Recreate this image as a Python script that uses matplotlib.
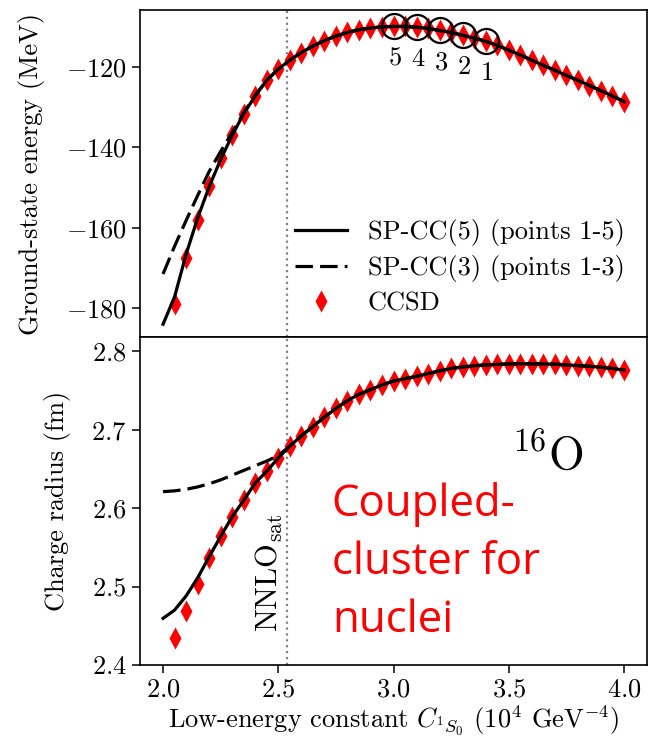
import matplotlib
matplotlib.use("Agg")
import matplotlib.pyplot as plt
import numpy as np

plt.rcParams['font.family'] = 'serif'
plt.rcParams['font.serif'] = ['cmr10']
plt.rcParams['mathtext.fontset'] = 'cm'
plt.rcParams['axes.formatter.use_mathtext'] = True
plt.rcParams['font.size'] = 19
plt.rcParams['axes.unicode_minus'] = True

# CCSD points (C_1S0 in 10^4 GeV^-4)
c_ccsd = [2.05, 2.10, 2.15, 2.20, 2.25, 2.30, 2.35, 2.40, 2.45, 2.50,
          2.55, 2.60, 2.65, 2.70, 2.75, 2.80, 2.85, 2.90, 2.95, 3.00,
          3.05, 3.10, 3.15, 3.20, 3.25, 3.30, 3.35, 3.40, 3.45, 3.50,
          3.55, 3.60, 3.65, 3.70, 3.75, 3.80, 3.85, 3.90, 3.95, 4.00]
e_ccsd = [-178.9, -167.5, -158.0, -149.6, -142.6, -136.8, -131.6, -127.2, -123.3, -120.5,
          -118.3, -116.4, -114.8, -113.4, -112.3, -111.4, -110.7, -110.3, -110.0, -109.9,
          -109.9, -110.1, -110.4, -110.9, -111.4, -112.1, -112.8, -113.6, -114.6, -115.8,
          -117.0, -118.3, -119.6, -120.8, -122.1, -123.3, -124.6, -125.9, -127.2, -128.6]
r_ccsd = [2.435, 2.469, 2.503, 2.537, 2.564, 2.589, 2.610, 2.632, 2.647, 2.664,
          2.679, 2.692, 2.704, 2.716, 2.727, 2.737, 2.745, 2.751, 2.757, 2.762,
          2.765, 2.768, 2.7715, 2.775, 2.778, 2.780, 2.7815, 2.7825, 2.7833, 2.7838,
          2.784, 2.784, 2.7838, 2.7834, 2.7826, 2.7817, 2.7808, 2.7796, 2.778, 2.776]

# emulator curves
c_curve = [2.00] + c_ccsd
e_sp5 = [-184.0, -177.2, -166.6, -157.6, -149.8, -143.0, -137.0] + e_ccsd[6:]
e_sp3 = [-171.5, -164.6, -158.2, -152.0, -146.0, -141.0, -136.3, -131.4, -127.0] + e_ccsd[8:]
r_sp5 = [2.4595, 2.470, 2.488, 2.511, 2.538, 2.564, 2.589] + r_ccsd[6:]
r_sp3 = [2.621, 2.622, 2.624, 2.627, 2.631, 2.636, 2.642, 2.648, 2.654, 2.660,
         2.667] + r_ccsd[10:]

# training points 1-5
c_train = [3.4, 3.3, 3.2, 3.1, 3.0]
e_train = [-113.6, -112.1, -110.9, -110.1, -109.9]
train_labels = ['1', '2', '3', '4', '5']

c_nnlosat = 2.54

fig = plt.figure(figsize=(6.49, 7.38), dpi=100)
ax1 = fig.add_axes([0.2157, 0.5427, 0.7813, 0.4438])
ax2 = fig.add_axes([0.2157, 0.0989, 0.7813, 0.4438], sharex=ax1)

for ax in (ax1, ax2):
    ax.axvline(c_nnlosat, color='gray', ls=':', lw=1.6, zorder=1)
    for s in ax.spines.values():
        s.set_linewidth(1.2)
    ax.tick_params(direction='out', length=6, width=1.1, labelsize=19)

dash = (5.5, 2.2)

ax1.plot(c_curve, e_sp5, 'k-', lw=2.3, label='SP-CC(5) (points 1-5)', zorder=3)
ax1.plot(c_curve, e_sp3, 'k--', lw=2.3, dashes=dash, label='SP-CC(3) (points 1-3)', zorder=3)
ax1.plot(c_ccsd, e_ccsd, 'rd', ms=11, mec='none', label='CCSD', zorder=2)
ax1.plot(c_train, e_train, 'o', mfc='none', mec='k', mew=1.6, ms=18, zorder=4)
for c, e, t in zip(c_train, e_train, train_labels):
    ax1.annotate(t, (c, e), xytext=(1, -23), textcoords='offset points',
                 ha='center', va='center', fontsize=19)

ax1.set_ylim(-187.3, -105.8)
ax1.set_yticks([-180, -160, -140, -120])
ax1.set_ylabel('Ground-state energy (MeV)', labelpad=15)
ax1.tick_params(axis='x', bottom=False, labelbottom=False)
ax1.legend(loc='lower right', frameon=False, fontsize=19, handlelength=1.95,
           labelspacing=0.35, borderaxespad=0.45)

ax2.plot(c_curve, r_sp5, 'k-', lw=2.3, zorder=3)
ax2.plot(c_curve, r_sp3, 'k--', lw=2.3, dashes=dash, zorder=3)
ax2.plot(c_ccsd, r_ccsd, 'rd', ms=11, mec='none', zorder=2)
ax2.set_ylim(2.4, 2.8175)
ax2.set_yticks([2.4, 2.5, 2.6, 2.7, 2.8])
ax2.set_xlim(1.9, 4.1)
ax2.set_xticks([2.0, 2.5, 3.0, 3.5, 4.0])
ax2.set_ylabel('Charge radius (fm)', labelpad=15)
ax2.set_xlabel(r'Low-energy constant $C_{^1S_0}$ ($10^4$ GeV$^{-4}$)', labelpad=1)

ax2.text(c_nnlosat - 0.012, 2.442, r'NNLO$_{\rm sat}$', rotation=90,
         ha='right', va='bottom', fontsize=22)
ax2.text(3.666, 2.649, r'$^{16}$O', ha='center', va='baseline', fontsize=33)
ax2.text(2.732, 2.428, 'Coupled-\ncluster for\nnuclei', color='red',
         family='Open Sans', fontsize=31.5, ha='left', va='bottom', linespacing=1.4)

fig.savefig('out.png', dpi=100)
